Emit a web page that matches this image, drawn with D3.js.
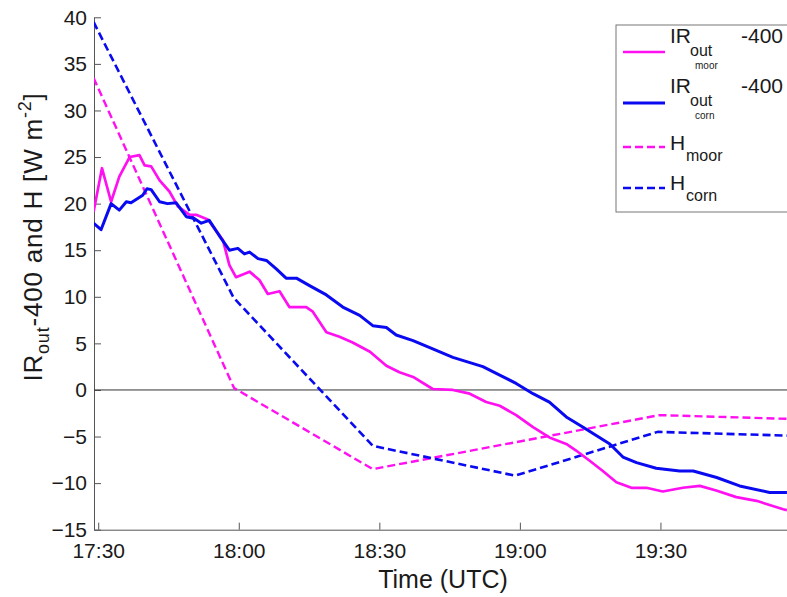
<!DOCTYPE html>
<html>
<head>
<meta charset="utf-8">
<script src="https://cdn.jsdelivr.net/npm/d3@7"></script>
<style>
  body { margin: 0; background: #fff; }
  text { font-family: "Liberation Sans", Arial, Helvetica, sans-serif; fill: #1a1a1a; }
</style>
</head>
<body>
<div id="chart"></div>
<script>

// minutes after 17:30 UTC and values [W m-2]
var irMoorMin = [-1, 0.8, 2.75, 4.5, 6.7, 8.8, 9.9, 11.3, 13.1, 15.2, 17, 19.5, 20.9, 23.4, 26.6, 28, 29.4, 32.3, 34.4, 36.2, 38.7, 40.8, 44.4, 45.8, 48.7, 51.5, 54.3, 58, 61.5, 64.3, 67.2, 71.4, 75.7, 79.3, 82.8, 85.7, 89.2, 92.8, 96.3, 99.9, 102, 104.9, 107.7, 110.6, 113.8, 117, 120.5, 124.8, 128.4, 131.9, 136.2, 140.5, 146.2, 147];
var irMoorVal = [19.1, 23.8, 20.2, 22.9, 25.0, 25.2, 24.1, 24.0, 22.5, 21.3, 19.7, 18.8, 18.8, 18.3, 16.1, 13.4, 12.1, 12.7, 11.8, 10.3, 10.6, 8.9, 8.9, 8.4, 6.2, 5.7, 5.1, 4.1, 2.6, 1.9, 1.4, 0.1, 0.0, -0.4, -1.3, -1.7, -2.7, -4.0, -5.1, -5.8, -6.5, -7.6, -8.7, -9.9, -10.5, -10.5, -10.9, -10.5, -10.3, -10.8, -11.5, -11.9, -12.8, -12.9];

var irCornMin = [-1, 0.6, 2.75, 4.5, 6, 7, 9.5, 10.4, 11.3, 13.1, 14.8, 16.6, 18.8, 20.5, 22, 23.7, 26.2, 28, 29.8, 31.2, 32.3, 34.1, 35.9, 38, 40.1, 42.3, 45.1, 48.7, 52.2, 55.8, 58.6, 61.5, 63.6, 67.2, 71.4, 75.7, 82.1, 85.7, 89.2, 92.8, 96.3, 99.9, 103.5, 106.3, 109.2, 112, 114.9, 119.1, 124.1, 127, 132, 136.9, 143.3, 147];
var irCornVal = [17.9, 17.2, 20.0, 19.3, 20.2, 20.1, 20.9, 21.6, 21.5, 20.2, 20.0, 20.1, 18.6, 18.4, 17.9, 18.2, 16.3, 15.0, 15.2, 14.6, 14.8, 14.1, 13.9, 13.0, 12.0, 12.0, 11.2, 10.2, 8.9, 8.0, 6.9, 6.7, 5.9, 5.3, 4.4, 3.5, 2.5, 1.6, 0.7, -0.4, -1.3, -2.9, -4.0, -4.9, -5.8, -7.2, -7.8, -8.4, -8.7, -8.7, -9.4, -10.3, -11.0, -11.0];

var hMoorMin = [-1, 29, 58.6, 119.8, 147];
var hMoorVal = [33.5, 0.2, -8.5, -2.7, -3.1];

var hCornMin = [-1, 28.9, 58.6, 89, 119.4, 147];
var hCornVal = [39.5, 9.9, -6.0, -9.2, -4.5, -4.9];

var yTicks = [-15, -10, -5, 0, 5, 10, 15, 20, 25, 30, 35, 40];
var xTickLabels = ["17:30", "18:00", "18:30", "19:00", "19:30"];

var pink = "#ff10f0", blue = "#0a0af0";

var W = 787, H = 597;
var pLeft = 94, pRight = 801, pTop = 17.3, pBottom = 529.7;
var t0 = new Date(2000, 0, 1, 17, 30);
function tm(m) { return new Date(t0.getTime() + m * 60000); }

var x = d3.scaleTime().domain([tm(-0.9), tm(150)]).range([pLeft, pRight]);
var y = d3.scaleLinear().domain([-15, 40]).range([pBottom, pTop]);

var svg = d3.select("#chart").append("svg")
    .attr("width", W)
    .attr("height", H);

// axes (MATLAB style ticks point inward)
var yAxis = d3.axisLeft(y).tickValues(yTicks).tickSizeInner(-7).tickSizeOuter(0).tickPadding(7);
var gy = svg.append("g").attr("transform", "translate(" + pLeft + ",0)").call(yAxis);
gy.selectAll("text").style("font-size", "21px");

var xTickTimes = xTickLabels.map(function (s) {
    var p = s.split(":");
    return new Date(2000, 0, 1, +p[0], +p[1]);
});
var xAxis = d3.axisBottom(x).tickValues(xTickTimes)
    .tickFormat(function (d, i) { return xTickLabels[i]; })
    .tickSizeInner(-7).tickSizeOuter(0).tickPadding(13);
var gx = svg.append("g").attr("transform", "translate(0," + pBottom + ")").call(xAxis);
gx.selectAll("text").style("font-size", "21px");

svg.selectAll(".domain, .tick line").attr("stroke", "#555");

// zero line
svg.append("line")
    .attr("x1", pLeft).attr("x2", W)
    .attr("y1", y(0)).attr("y2", y(0))
    .attr("stroke", "#333").attr("stroke-width", 1);

function series(mins, vals) {
    return mins.map(function (m, i) { return [tm(m), vals[i]]; });
}
var line = d3.line().x(function (d) { return x(d[0]); }).y(function (d) { return y(d[1]); });

var lines = [
    {data: series(hMoorMin, hMoorVal), color: pink, dash: "8,4", w: 2.4},
    {data: series(hCornMin, hCornVal), color: blue, dash: "8,4", w: 2.6},
    {data: series(irMoorMin, irMoorVal), color: pink, dash: null, w: 2.7},
    {data: series(irCornMin, irCornVal), color: blue, dash: null, w: 3}
];

svg.append("clipPath").attr("id", "clip")
    .append("rect").attr("x", pLeft).attr("y", 0).attr("width", W - pLeft).attr("height", pBottom);

svg.append("g").attr("clip-path", "url(#clip)")
    .selectAll("path").data(lines).enter().append("path")
    .attr("d", function (d) { return line(d.data); })
    .attr("fill", "none")
    .attr("stroke", function (d) { return d.color; })
    .attr("stroke-width", function (d) { return d.w; })
    .attr("stroke-dasharray", function (d) { return d.dash; })
    .attr("stroke-linejoin", "round");

// axis labels
svg.append("text")
    .attr("x", 443).attr("y", 588)
    .attr("text-anchor", "middle")
    .style("font-size", "25px")
    .text("Time (UTC)");

var yl = svg.append("text")
    .attr("transform", "translate(42,237) rotate(-90)")
    .attr("text-anchor", "middle")
    .style("font-size", "26px")
    .style("letter-spacing", "0.8px");
yl.append("tspan").text("IR");
yl.append("tspan").attr("dy", 7).style("font-size", "18px").text("out");
yl.append("tspan").attr("dy", -7).text("-400 and H [W m");
yl.append("tspan").attr("dy", -11).style("font-size", "18px").text("-2");
yl.append("tspan").attr("dy", 11).text("]");

// legend
var legend = svg.append("g");
legend.append("rect")
    .attr("x", 616).attr("y", 25).attr("width", 200).attr("height", 187)
    .attr("fill", "#fff").attr("stroke", "#777").attr("stroke-width", 1);

var legendItems = [
    {ly: 52, color: pink, dash: null, w: 2.7, main: "IR", sub: "out", sub2: "moor", tail: "-400", base: 43},
    {ly: 103, color: blue, dash: null, w: 3, main: "IR", sub: "out", sub2: "corn", tail: "-400", base: 93},
    {ly: 147, color: pink, dash: "8,4", w: 2.4, main: "H", sub: "moor", base: 150},
    {ly: 188, color: blue, dash: "8,4", w: 2.6, main: "H", sub: "corn", base: 190}
];

legendItems.forEach(function (d) {
    legend.append("line")
        .attr("x1", 623).attr("x2", 665).attr("y1", d.ly).attr("y2", d.ly)
        .attr("stroke", d.color).attr("stroke-width", d.w)
        .attr("stroke-dasharray", d.dash);
    legend.append("text").attr("x", 670).attr("y", d.base).style("font-size", "21px").text(d.main);
    if (d.sub2) {
        legend.append("text").attr("x", 690).attr("y", d.base + 13).style("font-size", "16px").text(d.sub);
        legend.append("text").attr("x", 695).attr("y", d.base + 26).style("font-size", "10px").text(d.sub2);
        legend.append("text").attr("x", 741).attr("y", d.base).style("font-size", "21px").text(d.tail);
    } else {
        legend.append("text").attr("x", 686).attr("y", d.base + 11).style("font-size", "16px").text(d.sub);
    }
});

</script>
</body>
</html>
